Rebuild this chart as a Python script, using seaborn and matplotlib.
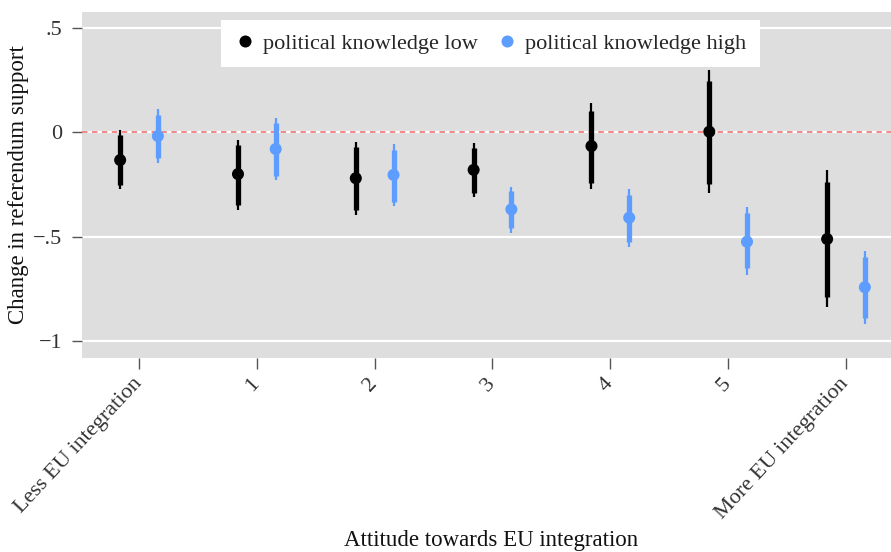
import numpy as np
import pandas as pd
import seaborn as sns
import matplotlib
matplotlib.use("Agg")
import matplotlib.pyplot as plt

# data
categories = ["Less EU integration", "1", "2", "3", "4", "5", "More EU integration"]
groups = ["political knowledge low", "political knowledge high"]

low_est = [-0.133, -0.200, -0.220, -0.180, -0.066, 0.003, -0.511]
low_hi95 = [0.010, -0.037, -0.045, -0.053, 0.142, 0.298, -0.180]
low_lo95 = [-0.273, -0.372, -0.396, -0.308, -0.273, -0.289, -0.835]
low_hi90 = [-0.013, -0.061, -0.069, -0.077, 0.103, 0.247, -0.236]
low_lo90 = [-0.250, -0.348, -0.372, -0.289, -0.244, -0.248, -0.787]

high_est = [-0.018, -0.080, -0.204, -0.369, -0.409, -0.524, -0.742]
high_hi95 = [0.110, 0.067, -0.056, -0.260, -0.273, -0.356, -0.567]
high_lo95 = [-0.146, -0.228, -0.353, -0.481, -0.548, -0.683, -0.918]
high_hi90 = [0.083, 0.043, -0.085, -0.280, -0.300, -0.388, -0.596]
high_lo90 = [-0.125, -0.209, -0.332, -0.460, -0.524, -0.651, -0.891]

yticks = [0.5, 0, -0.5, -1]
ytick_labels = [".5", "0", "\u2212.5", "\u22121"]

colors = {"political knowledge low": "black", "political knowledge high": "#5C9DFF"}
offsets = {"political knowledge low": -0.16, "political knowledge high": 0.16}

rows = []
for i, cat in enumerate(categories):
    rows.append([i, groups[0], low_est[i], low_lo95[i], low_hi95[i], low_lo90[i], low_hi90[i]])
    rows.append([i, groups[1], high_est[i], high_lo95[i], high_hi95[i], high_lo90[i], high_hi90[i]])
df = pd.DataFrame(rows, columns=["pos", "group", "est", "lo95", "hi95", "lo90", "hi90"])
df["x"] = df["pos"] + df["group"].map(offsets)

sns.set_theme(style="darkgrid", rc={
    "axes.facecolor": "#DEDEDE",
    "grid.color": "white",
    "grid.linewidth": 1.6,
    "xtick.bottom": True,
    "ytick.left": True,
    "xtick.color": "#555555",
    "ytick.color": "#555555",
    "xtick.major.size": 8,
    "ytick.major.size": 7,
    "xtick.major.width": 1.0,
    "ytick.major.width": 1.0,
})
plt.rcParams["font.family"] = ["Liberation Serif", "DejaVu Serif"]

fig = plt.figure(figsize=(8.91, 5.52), dpi=100)
ax = fig.add_axes([0.092, 0.351, 0.908, 0.628])

ax.axhline(0, color="#F47C7C", linestyle=(0, (3, 2.5)), linewidth=1.3, zorder=1)

for g in groups:
    sub = df[df["group"] == g]
    ax.vlines(sub["x"], sub["lo95"], sub["hi95"], color=colors[g], linewidth=1.6, zorder=2)
    ax.vlines(sub["x"], sub["lo90"], sub["hi90"], color=colors[g], linewidth=3.8, zorder=2)

sns.scatterplot(data=df, x="x", y="est", hue="group", palette=colors, hue_order=groups,
                s=75, edgecolor="none", zorder=3, ax=ax)

ax.set_xlim(-0.484, 6.382)
ax.set_ylim(-1.082, 0.578)
ax.set_xticks(range(len(categories)))
ax.set_xticklabels(categories, rotation=47, ha="right", va="center",
                   rotation_mode="anchor", fontsize=16, color="#333333")
ax.tick_params(axis="x", pad=8)
ax.tick_params(axis="y", pad=7)
ax.set_yticks(yticks)
ax.set_yticklabels(ytick_labels, fontsize=16, color="#333333")
ax.grid(axis="x", visible=False)
for s in ax.spines.values():
    s.set_visible(False)

ax.set_xlabel("Attitude towards EU integration", fontsize=16.5, color="#111111")
ax.set_ylabel("Change in referendum support", fontsize=16.5, color="#111111")
ax.xaxis.set_label_coords(0.506, -0.495)
ax.yaxis.set_label_coords(-0.066, 0.5)

leg = ax.legend(loc="upper center", bbox_to_anchor=(0.505, 0.976), ncol=2, frameon=True,
                fancybox=False, fontsize=16, markerscale=1.0, handlelength=0.9,
                handletextpad=0.35, columnspacing=0.9, borderpad=0.6,
                borderaxespad=0, title=None)
leg.get_frame().set_facecolor("white")
leg.get_frame().set_edgecolor("none")
leg.get_frame().set_alpha(1)

fig.savefig("out.png", dpi=100)
